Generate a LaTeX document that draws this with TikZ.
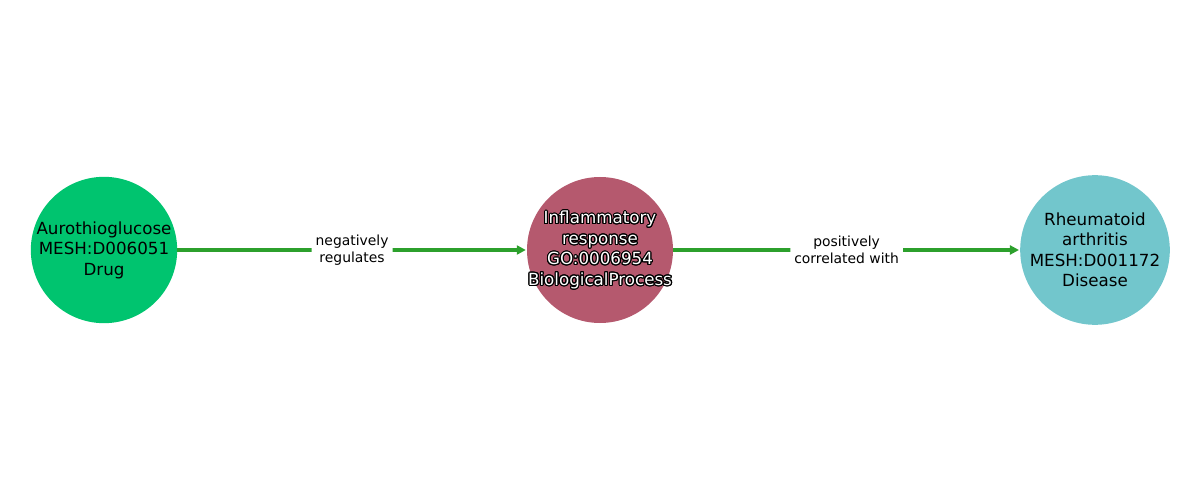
\documentclass[tikz,border=0pt]{standalone}
\usepackage{fontspec}
\setmainfont{DejaVu Sans}
\usetikzlibrary{arrows.meta}
\definecolor{cdrug}{RGB}{0,196,111}
\definecolor{cproc}{RGB}{181,89,110}
\definecolor{cdis}{RGB}{114,198,204}
\definecolor{cedge}{RGB}{44,160,44}
\newcommand{\outlined}[1]{%
  \begin{tikzpicture}[baseline=(t.base)]
    \foreach \a in {0,22.5,...,360}{
      \node[inner sep=0pt,align=center,text=black] at (\a:1.1pt) {#1};
    }
    \node[inner sep=0pt,align=center,text=white] (t) at (0,0) {#1};
  \end{tikzpicture}}
\begin{document}
\begin{tikzpicture}[x=1pt,y=-1pt,
  ent/.style={circle,minimum size=146pt,inner sep=0pt,align=center,
    font=\fontsize{16.7}{20.5}\selectfont},
  rel/.style={draw=cedge,line width=3.6pt,shorten >=1pt,-{Triangle[length=9pt,width=9pt]}},
  lab/.style={fill=white,align=center,inner sep=4pt,rounded corners=2pt,
    font=\fontsize{13.9}{16.5}\selectfont}]
\useasboundingbox (0,0) rectangle (1200,500);
\node[ent,fill=cdrug] (a) at (104,250) {Aurothioglucose\\MESH:D006051\\Drug};
\node[ent,fill=cproc] (b) at (600,250) {};
\node[ent,text=white,font=\fontsize{16.7}{20.5}\selectfont] at (600,250)
  {\outlined{Inflammatory\\response\\GO:0006954\\BiologicalProcess}};
\node[ent,fill=cdis] (c) at (1095,250) {Rheumatoid\\arthritis\\MESH:D001172\\Disease};
\draw[rel] (a) -- (b) node[lab,pos=0.5] {negatively\\regulates};
\draw[rel] (b) -- (c) node[lab,pos=0.5] {positively\\correlated with};
\end{tikzpicture}
\end{document}
